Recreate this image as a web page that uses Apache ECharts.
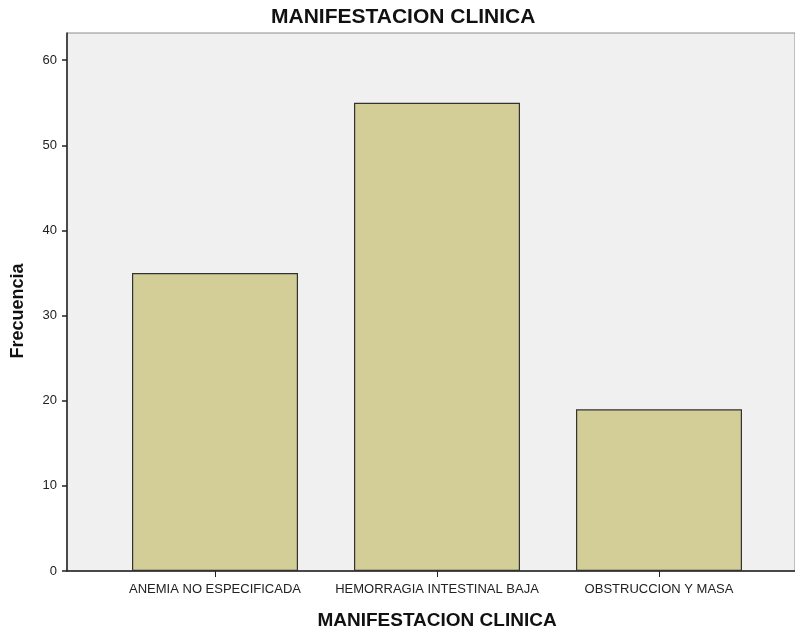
<!DOCTYPE html>
<html>
<head>
<meta charset="utf-8">
<script src="https://cdn.jsdelivr.net/npm/echarts@6/dist/echarts.min.js"></script>
<style>
  html, body { margin: 0; padding: 0; background: #ffffff; }
  #chart { width: 795px; height: 630px; }
</style>
</head>
<body>
<div id="chart"></div>
<script>
const categories = ['ANEMIA NO ESPECIFICADA', 'HEMORRAGIA INTESTINAL BAJA', 'OBSTRUCCION Y MASA'];
const frecuencia = [35, 55, 19];
const yTicks = [0, 10, 20, 30, 40, 50, 60];
const yMax = 63.2;

const FONT = "'Liberation Sans', Arial, sans-serif";
const chart = echarts.init(document.getElementById('chart'), null, { renderer: 'canvas' });

chart.setOption({
  animation: false,
  backgroundColor: '#ffffff',
  title: {
    text: 'MANIFESTACION CLINICA',
    left: 266,
    top: 2,
    textStyle: { fontFamily: FONT, fontSize: 21, fontWeight: 'bold', color: '#111' }
  },
  grid: [
    { left: 67, right: 0, top: 33, bottom: 59, show: true, backgroundColor: '#f0f0f0',
      borderColor: '#8c8c8c', borderWidth: 1, outerBoundsMode: 'none', containLabel: false },
    { left: 104, right: 25, top: 33, bottom: 59, outerBoundsMode: 'none', containLabel: false }
  ],
  xAxis: [
    { gridIndex: 0, type: 'value', min: 0, max: 1,
      axisLine: { show: true, lineStyle: { color: '#222', width: 1.5 } },
      axisTick: { show: false }, axisLabel: { show: false }, splitLine: { show: false } },
    { gridIndex: 1, type: 'category', data: categories,
      axisLine: { show: false },
      axisTick: { show: true, alignWithLabel: true, length: 6, lineStyle: { color: '#222' } },
      axisLabel: { interval: 0, hideOverlap: false, margin: 12, fontFamily: FONT, fontSize: 13, color: '#222' },
      name: 'MANIFESTACION CLINICA', nameLocation: 'middle', nameGap: 40,
      nameTextStyle: { fontFamily: FONT, fontSize: 19, fontWeight: 'bold', color: '#111' } }
  ],
  yAxis: [
    { gridIndex: 0, type: 'value', min: 0, max: yMax, interval: 10,
      axisLine: { show: true, lineStyle: { color: '#222', width: 1.5 } },
      axisTick: { show: true, length: 5, customValues: yTicks, lineStyle: { color: '#222', width: 1.5 } },
      axisLabel: { customValues: yTicks, margin: 10, fontFamily: FONT, fontSize: 13, color: '#222' },
      splitLine: { show: false },
      name: 'Frecuencia', nameLocation: 'middle', nameGap: 40, nameRotate: 90,
      nameTextStyle: { fontFamily: FONT, fontSize: 18, fontWeight: 'bold', color: '#111', padding: [0, 18, 0, 0] } },
    { gridIndex: 1, type: 'value', min: 0, max: yMax, show: false }
  ],
  series: [{
    type: 'bar',
    xAxisIndex: 1,
    yAxisIndex: 1,
    data: frecuencia,
    barWidth: 166,
    itemStyle: { color: '#d3ce97', borderColor: '#333', borderWidth: 1.2 }
  }]
});
</script>
</body>
</html>
